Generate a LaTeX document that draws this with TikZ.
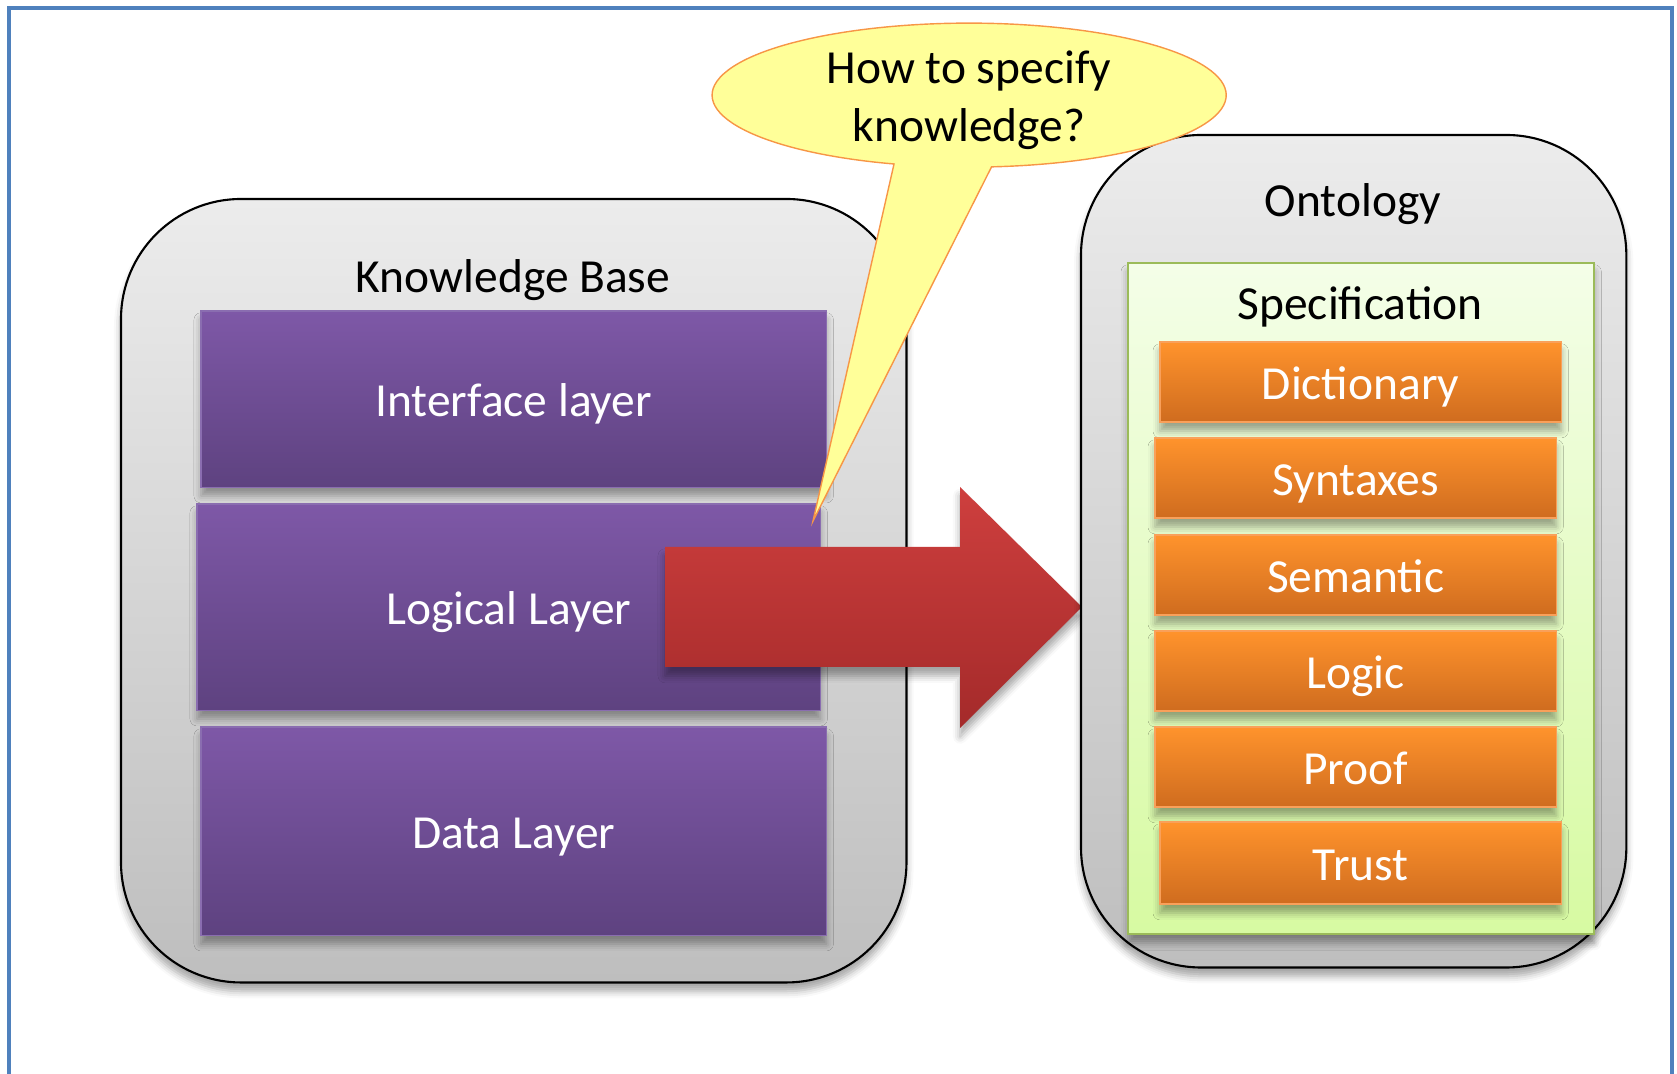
\documentclass[tikz,border=0pt]{standalone}
\usepackage{fontspec}
\setmainfont{Carlito}
\usetikzlibrary{shadows.blur}

\definecolor{framebl}{HTML}{4F81BD}
\definecolor{paneltop}{HTML}{ECECEC}
\definecolor{panelbot}{HTML}{BEBEBE}
\definecolor{layertop}{HTML}{7E58A7}
\definecolor{layerbot}{HTML}{5E4280}
\definecolor{layerline}{HTML}{8A6DB0}
\definecolor{arrowtop}{HTML}{CE3F3E}
\definecolor{arrowbot}{HTML}{A42A2A}
\definecolor{bubblefill}{HTML}{FFFF99}
\definecolor{bubbleline}{HTML}{F79646}
\definecolor{spectop}{HTML}{F4FEE8}
\definecolor{specbot}{HTML}{D7FAA2}
\definecolor{specline}{HTML}{9BBB59}
\definecolor{itemtop}{HTML}{FF932C}
\definecolor{itembot}{HTML}{CF6C1F}
\definecolor{itemline}{HTML}{F9A05A}

\tikzset{
  softshadow/.style={blur shadow={shadow xshift=0pt, shadow yshift=-2.5pt,
      shadow blur radius=2pt, shadow opacity=35}},
  panel/.style={draw=black, line width=0.6pt, rounded corners=1.2cm,
      top color=paneltop, bottom color=panelbot, softshadow,
      anchor=north west, inner sep=0pt, outer sep=0pt},
  layer/.style={draw=layerline, line width=0.3pt, top color=layertop,
      bottom color=layerbot, text=white, softshadow,
      text height=11pt, text depth=1pt,
      anchor=north west, inner sep=0pt, outer sep=0pt},
  spec/.style={draw=specline, line width=0.6pt, top color=spectop,
      bottom color=specbot, softshadow,
      anchor=north west, inner sep=0pt, outer sep=0pt},
  item/.style={draw=itemline, line width=0.4pt, top color=itemtop,
      bottom color=itembot, text=white, softshadow,
      text height=11pt, text depth=1pt,
      minimum width=4.01cm, minimum height=0.80cm,
      anchor=north west, inner sep=0pt, outer sep=0pt},
  title/.style={text=black}
}

\begin{document}
\begin{tikzpicture}[x=0.01cm, y=-0.01cm,
    every node/.style={font=\fontsize{13.5}{16.5}\selectfont}]
  \useasboundingbox (0,0) rectangle (1677,1074);

  % outer frame, open at the bottom
  \draw[framebl, line width=1pt] (9,1100) -- (9,8) -- (1672,8) -- (1672,1100);

  % knowledge base and its layers
  \node[panel, minimum width=7.85cm, minimum height=7.83cm] (kb) at (121,199) {};
  \node[title] (kbtitle) at (513,280) {Knowledge Base};
  \node[layer, minimum width=6.25cm, minimum height=1.76cm] (interface) at (201,311) {Interface layer};
  \node[layer, minimum width=6.23cm, minimum height=2.06cm] (logical) at (197,504) {Logical Layer};
  \node[layer, minimum width=6.25cm, minimum height=2.08cm] (data) at (201,727) {Data Layer};

  % block arrow towards the ontology
  \path[top color=arrowtop, bottom color=arrowbot, softshadow]
    (665,547) -- (960,547) -- (960,487) -- (1082,607) -- (960,728)
    -- (960,667) -- (665,667) -- cycle;

  % ontology with its specification stack
  \node[panel, minimum width=5.45cm, minimum height=8.32cm] (onto) at (1081,135) {};
  \node[title] (ontotitle) at (1353,204) {Ontology};
  \node[spec, minimum width=4.66cm, minimum height=6.71cm] (specbox) at (1128,263) {};
  \node[title] (spectitle) at (1360,307) {Specification};
  \node[item] (dict) at (1160,342) {Dictionary};
  \node[item] (syntax) at (1155,438) {Syntaxes};
  \node[item] (semantic) at (1155,535) {Semantic};
  \node[item] (logic) at (1155,631) {Logic};
  \node[item] (proof) at (1155,727) {Proof};
  \node[item, minimum height=0.82cm] (trust) at (1160,822) {Trust};

  % speech bubble
  \filldraw[fill=bubblefill, draw=bubbleline, line width=0.4pt]
    (894,164) arc[start angle=107, end angle=445, x radius=257, y radius=72]
    -- (813,521) -- cycle;
  \node[align=center] (question) at (969,100) {How to specify\\knowledge?};
\end{tikzpicture}
\end{document}
